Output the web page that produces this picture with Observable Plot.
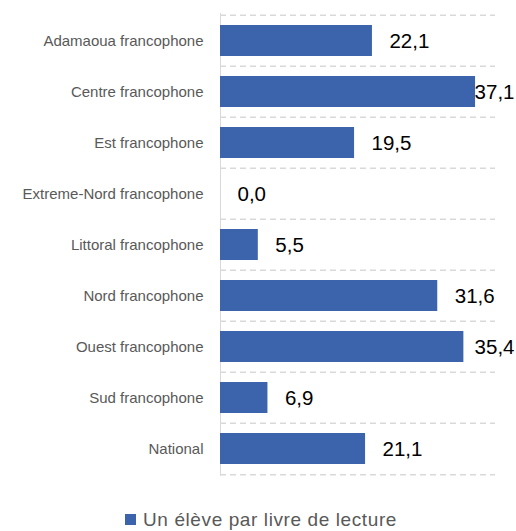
<!DOCTYPE html>
<html>
<head>
<meta charset="utf-8">
<script src="https://cdn.jsdelivr.net/npm/d3@7"></script>
<script src="https://cdn.jsdelivr.net/npm/@observablehq/plot@0.6"></script>
<style>
  html, body { margin: 0; padding: 0; background: #fff; }
  #chart { width: 516px; }
  .legend { font-family: "Liberation Sans", Arial, sans-serif; font-size: 19px; letter-spacing: 0.6px; color: #595959; line-height: 21px;
            display: flex; justify-content: center; align-items: center; gap: 7px; height: 21px; padding-top: 19px; margin-left: 6px; }
  .legend .sw { width: 11px; height: 11px; background: #3b64ad; display: inline-block; }
</style>
</head>
<body>
<div id="chart"></div>
<script>
const categories = ["Adamaoua francophone", "Centre francophone", "Est francophone", "Extreme-Nord francophone",
  "Littoral francophone", "Nord francophone", "Ouest francophone", "Sud francophone", "National"];
const values = [22.1, 37.1, 19.5, 0.0, 5.5, 31.6, 35.4, 6.9, 21.1];
const seriesName = "Un élève par livre de lecture";

const data = categories.map((c, i) => ({category: c, value: values[i]}));
const fmt = v => v.toFixed(1).replace(".", ",");

const W = 516, H = 490, mt = 13, mb = 14, ml = 220, mr = 21;
const step = (H - mt - mb) / categories.length;
const color = "#3b64ad";
const fits = d => d.value < 33;

const chart = Plot.plot({
  width: W, height: H,
  marginTop: mt, marginBottom: mb, marginLeft: ml, marginRight: mr,
  style: {fontFamily: "Liberation Sans, Arial, sans-serif", background: "#fff"},
  x: {domain: [0, 40], axis: null},
  y: {domain: categories, padding: 0, label: null, tickSize: 0, tickPadding: 17},
  marks: [
    Plot.ruleY(categories, {y: d => d, dy: -step / 2, stroke: "#d9d9d9", strokeWidth: 1.5, strokeDasharray: "6,4"}),
    Plot.ruleY(categories.slice(-1), {y: d => d, dy: step / 2, stroke: "#d9d9d9", strokeWidth: 1.5, strokeDasharray: "6,4"}),
    Plot.ruleX([0], {stroke: "#d9d9d9", strokeWidth: 1}),
    Plot.barX(data, {x: "value", y: "category", fill: color, insetTop: 10, insetBottom: 10}),
    Plot.text(data.filter(fits), {x: "value", y: "category", text: d => fmt(d.value), textAnchor: "start", dx: 17, fontSize: 20.5, fill: "#000"}),
    Plot.text(data.filter(d => !fits(d)), {y: "category", frameAnchor: "right", text: d => fmt(d.value), textAnchor: "end", dx: 19, fontSize: 20.5, fill: "#000"}),
    Plot.axisY({tickSize: 0, tickPadding: 17, fontSize: 15, color: "#595959", label: null})
  ]
});
document.getElementById("chart").appendChild(chart);

const legend = document.createElement("div");
legend.className = "legend";
legend.innerHTML = `<span class="sw"></span><span></span>`;
legend.lastChild.textContent = seriesName;
document.getElementById("chart").appendChild(legend);
</script>
</body>
</html>
